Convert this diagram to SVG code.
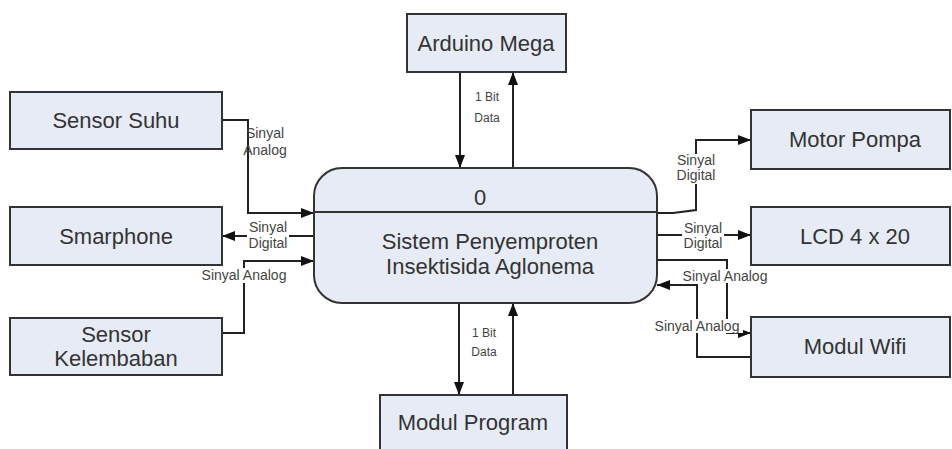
<svg xmlns="http://www.w3.org/2000/svg" width="952" height="449" viewBox="0 0 952 449">
<defs>
<style>
.box{fill:#e6ebf5;stroke:#333;stroke-width:2}
.t{font-family:"Liberation Sans",Arial,sans-serif;font-size:22px;fill:#333;text-anchor:middle}
.l{font-family:"Liberation Sans",Arial,sans-serif;font-size:14px;fill:#444;text-anchor:middle}
.s{font-family:"Liberation Sans",Arial,sans-serif;font-size:12px;fill:#444;text-anchor:middle}
.c{fill:none;stroke:#222;stroke-width:2}
.bg{fill:#fff}
</style>
<marker id="a" markerUnits="userSpaceOnUse" markerWidth="14" markerHeight="12" refX="13" refY="5" orient="auto">
<path d="M0,0 L13,5 L0,10 Z" fill="#111"/>
</marker>
</defs>
<rect width="952" height="449" fill="#fff"/>
<g id="connectors">
<polyline class="c" points="222,120 248,120 248,213 314,213" marker-end="url(#a)"/>
<line class="c" x1="314" y1="236" x2="222" y2="236" marker-end="url(#a)"/>
<polyline class="c" points="222,333 244,333 244,261 314,261" marker-end="url(#a)"/>
<line class="c" x1="460" y1="72" x2="460" y2="168" marker-end="url(#a)"/>
<line class="c" x1="513" y1="168" x2="513" y2="72" marker-end="url(#a)"/>
<line class="c" x1="459" y1="303" x2="459" y2="395" marker-end="url(#a)"/>
<line class="c" x1="513" y1="395" x2="513" y2="303" marker-end="url(#a)"/>
<polyline class="c" points="657,213 673,213 696,210 696,140 751,140" marker-end="url(#a)"/>
<line class="c" x1="657" y1="235" x2="751" y2="235" marker-end="url(#a)"/>
<polyline class="c" points="657,260 727,260 727,333 751,333" marker-end="url(#a)"/>
<polyline class="c" points="751,357 697,357 697,285 657,285" marker-end="url(#a)"/>
<g id="labels">
<text class="l" x="265" y="138">Sinyal</text>
<text class="l" x="265" y="155">Analog</text>
<rect class="bg" x="247" y="222" width="42" height="30"/>
<text class="l" x="268" y="232">Sinyal</text>
<text class="l" x="268" y="248">Digital</text>
<rect class="bg" x="198" y="268" width="92" height="15"/>
<text class="l" x="244" y="280">Sinyal Analog</text>
<text class="s" x="487" y="101">1 Bit</text>
<text class="s" x="487" y="122">Data</text>
<text class="s" x="484" y="337">1 Bit</text>
<text class="s" x="484" y="356">Data</text>
<rect class="bg" x="675" y="154" width="42" height="30"/>
<text class="l" x="696" y="165">Sinyal</text>
<text class="l" x="696" y="180">Digital</text>
<rect class="bg" x="682" y="222" width="42" height="30"/>
<text class="l" x="703" y="233">Sinyal</text>
<text class="l" x="703" y="248">Digital</text>
<rect class="bg" x="678" y="269" width="94" height="14"/>
<text class="l" x="725" y="281">Sinyal Analog</text>
<rect class="bg" x="651" y="319" width="92" height="14"/>
<text class="l" x="697" y="331">Sinyal Analog</text>
</g>
</g>
<g id="sensor-suhu">
<rect class="box" x="10" y="92" width="212" height="57"/>
<text class="t" x="116" y="128">Sensor Suhu</text>
</g>
<g id="smarphone">
<rect class="box" x="10" y="207" width="212" height="58"/>
<text class="t" x="116" y="244">Smarphone</text>
</g>
<g id="sensor-kelembaban">
<rect class="box" x="10" y="318" width="212" height="57"/>
<text class="t" x="116" y="342">Sensor</text>
<text class="t" x="116" y="366">Kelembaban</text>
</g>
<g id="arduino-mega">
<rect class="box" x="407" y="14" width="159" height="58"/>
<text class="t" x="486" y="51">Arduino Mega</text>
</g>
<g id="sistem">
<rect class="box" x="314" y="168" width="343" height="135" rx="28" ry="28"/>
<line x1="314" y1="212" x2="657" y2="212" stroke="#333" stroke-width="2"/>
<text class="t" x="480" y="205">0</text>
<text class="t" x="490" y="249">Sistem Penyemproten</text>
<text class="t" x="490" y="274">Insektisida Aglonema</text>
</g>
<g id="motor-pompa">
<rect class="box" x="751" y="110" width="199" height="59"/>
<text class="t" x="855" y="147">Motor Pompa</text>
</g>
<g id="lcd">
<rect class="box" x="751" y="207" width="199" height="58"/>
<text class="t" x="855" y="244">LCD 4 x 20</text>
</g>
<g id="modul-wifi">
<rect class="box" x="751" y="317" width="199" height="60"/>
<text class="t" x="855" y="354">Modul Wifi</text>
</g>
<g id="modul-program">
<rect class="box" x="380" y="395" width="187" height="60"/>
<text class="t" x="473" y="430">Modul Program</text>
</g>
</svg>
